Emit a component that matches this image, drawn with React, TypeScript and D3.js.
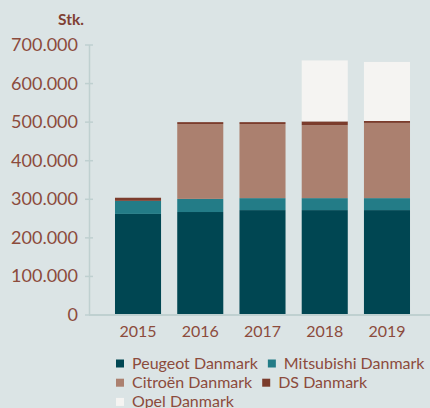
import React from 'react';
import * as d3 from 'd3';

const years = ['2015', '2016', '2017', '2018', '2019'];
const peugeot = [262000, 267000, 272000, 272000, 272000];
const mitsubishi = [34000, 34000, 31000, 31000, 31000];
const citroen = [0, 194000, 192000, 189000, 195000];
const ds = [8000, 5000, 5000, 10000, 5000];
const opel = [0, 0, 0, 158000, 153000];
const seriesNames = ['Peugeot Danmark', 'Mitsubishi Danmark', 'Citroën Danmark', 'DS Danmark', 'Opel Danmark'];
const seriesColors = ['#004652', '#237c87', '#ab806f', '#7b3c2c', '#f5f4f2'];
const legendRows = [[0, 1], [2, 3], [4]];
const yTicks = [0, 100000, 200000, 300000, 400000, 500000, 600000, 700000];
const yUnit = 'Stk.';

const W = 430;
const H = 408;
const BG = '#dbe4e5';
const TEXT = '#8c4b3c';
const AXIS = '#bfd0d0';
const FONT = 'Lato, sans-serif';

const fmt = d3.formatLocale({ decimal: ',', thousands: '.', grouping: [3], currency: ['', ''] }).format(',');

function measure(text: string, font: string): number {
  const c = document.createElement('canvas');
  const ctx = c.getContext('2d');
  if (!ctx) return text.length * 8;
  ctx.font = font;
  return ctx.measureText(text).width;
}

export default function App() {
  const x = d3.scaleBand<string>().domain(years).range([106.9, 418.1]).paddingInner(0.26).paddingOuter(0.13);
  const y = d3.scaleLinear().domain([0, 700000]).range([315, 45]);

  const rows = years.map((yr, i) => ({
    year: yr,
    s0: peugeot[i],
    s1: mitsubishi[i],
    s2: citroen[i],
    s3: ds[i],
    s4: opel[i],
  }));
  const keys = ['s0', 's1', 's2', 's3', 's4'];
  const stacked = d3.stack<any>().keys(keys)(rows);

  const legendFontSize = 16;
  const legendFont = `${legendFontSize}px Lato`;
  const legendItems: { name: string; color: string; x: number; row: number }[] = [];
  legendRows.forEach((idxs, row) => {
    let lx = 116;
    idxs.forEach((i) => {
      legendItems.push({ name: seriesNames[i], color: seriesColors[i], x: lx, row });
      lx += 16 + measure(seriesNames[i], legendFont) + 10;
    });
  });

  return (
    <svg width={W} height={H} style={{ position: 'absolute', left: 0, top: 0, display: 'block' }} fontFamily={FONT}>
      <rect x={0} y={0} width={W} height={H} fill={BG} />
      <text x={84} y={25} textAnchor="end" fontSize={15.5} fontWeight={700} fill="#7f4032">
        {yUnit}
      </text>
      <line x1={89.5} x2={89.5} y1={y(700000)} y2={y(0)} stroke={AXIS} strokeWidth={1.5} />
      {yTicks.map((t) => (
        <g key={t}>
          <line x1={85} x2={93} y1={y(t)} y2={y(t)} stroke={AXIS} strokeWidth={1.5} />
          <text x={78} y={y(t) + 6} textAnchor="end" fontSize={18} fill={TEXT}>
            {fmt(t)}
          </text>
        </g>
      ))}
      {stacked.map((layer, li) => (
        <g key={layer.key} fill={seriesColors[li]}>
          {layer.map((d: any) => {
            const h = y(d[0]) - y(d[1]);
            if (h <= 0) return null;
            return <rect key={d.data.year} x={x(d.data.year)} y={y(d[1])} width={x.bandwidth()} height={h} />;
          })}
        </g>
      ))}
      <line x1={89} x2={W} y1={315} y2={315} stroke={AXIS} strokeWidth={2} />
      {years.map((yr) => (
        <text key={yr} x={(x(yr) as number) + x.bandwidth() / 2} y={337} textAnchor="middle" fontSize={16} fill={TEXT}>
          {yr}
        </text>
      ))}
      {legendItems.map((it) => (
        <g key={it.name}>
          <rect x={it.x} y={359.5 + it.row * 19.2} width={8} height={8} fill={it.color} />
          <text x={it.x + 16} y={368.5 + it.row * 19.2} fontSize={legendFontSize} fill={TEXT}>
            {it.name}
          </text>
        </g>
      ))}
    </svg>
  );
}
